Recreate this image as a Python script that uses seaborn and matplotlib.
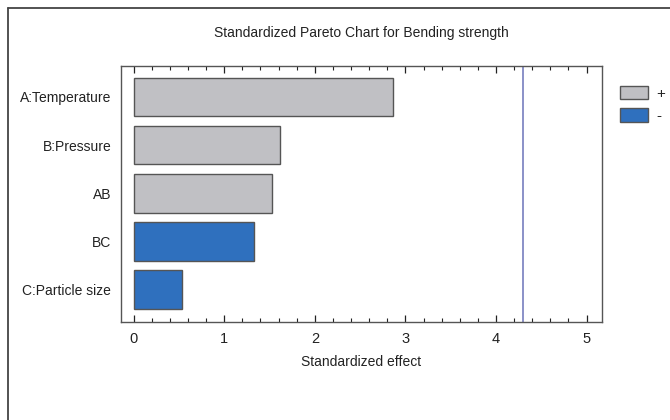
import matplotlib
matplotlib.use("Agg")
import matplotlib.pyplot as plt
from matplotlib.lines import Line2D
from matplotlib.patches import Patch
from matplotlib.ticker import MultipleLocator
import pandas as pd
import seaborn as sns

effects = ["A:Temperature", "B:Pressure", "AB", "BC", "C:Particle size"]
std_effect = [2.86, 1.61, 1.53, 1.33, 0.53]
sign = ["+", "+", "+", "-", "-"]
critical_t = 4.303

df = pd.DataFrame({"effect": effects, "value": std_effect, "sign": sign})

sns.set_theme(style="white")
plt.rcParams["font.family"] = ["Liberation Sans", "DejaVu Sans"]

W, H = 670, 420
FS = 10
fig = plt.figure(figsize=(6.7, 4.2), dpi=100)

# outer panel frame (top and left edges)
frame_kw = dict(transform=fig.transFigure, color="#444444", linewidth=1.3)
fig.add_artist(Line2D([8 / W, 1.0], [1 - 8 / H, 1 - 8 / H], **frame_kw))
fig.add_artist(Line2D([8 / W, 8 / W], [0.0, 1 - 8 / H], **frame_kw))

ax = fig.add_axes([121 / W, 1 - 322 / H, 481 / W, 256 / H])
palette = {"+": "#c0c0c4", "-": "#2f70be"}
sns.barplot(data=df, x="value", y="effect", hue="sign", palette=palette,
            orient="h", width=0.8, dodge=False, edgecolor="#555555",
            linewidth=1.0, legend=False, ax=ax, saturation=1)

# critical value of the standardized effect
ax.axvline(critical_t, color="#8a90c8", linewidth=1.4)

ax.set_xlim(-0.14, 5.17)
ax.set_ylim(4.67, -0.64)
ax.xaxis.set_major_locator(MultipleLocator(1))
ax.xaxis.set_minor_locator(MultipleLocator(0.2))
ax.tick_params(axis="x", which="both", direction="in", top=True, bottom=True,
               labelsize=FS + 0.5, colors="#222222", pad=7)
ax.tick_params(axis="x", which="major", length=5, width=0.9)
ax.tick_params(axis="x", which="minor", length=3, width=0.8)
ax.tick_params(axis="y", length=0, labelsize=FS, labelcolor="#222222", pad=7)
for s in ax.spines.values():
    s.set_color("#555555")
    s.set_linewidth(1.0)
ax.set_xlabel("Standardized effect", fontsize=FS, color="#222222", labelpad=7)
ax.set_ylabel("")

fig.text(361.5 / W, 1 - 33 / H,
         "Standardized Pareto Chart for Bending strength",
         ha="center", va="center", fontsize=FS, color="#222222")

handles = [Patch(facecolor=palette["+"], edgecolor="#555555", label="+"),
           Patch(facecolor=palette["-"], edgecolor="#555555", label="-")]
fig.legend(handles=handles, loc="upper left", bbox_to_anchor=(620 / W, 1 - 86 / H),
           frameon=False, fontsize=FS + 1, handlelength=1.8, handleheight=0.95,
           handletextpad=0.6, labelspacing=0.5, borderpad=0, borderaxespad=0)

fig.savefig("out.png", dpi=100)
